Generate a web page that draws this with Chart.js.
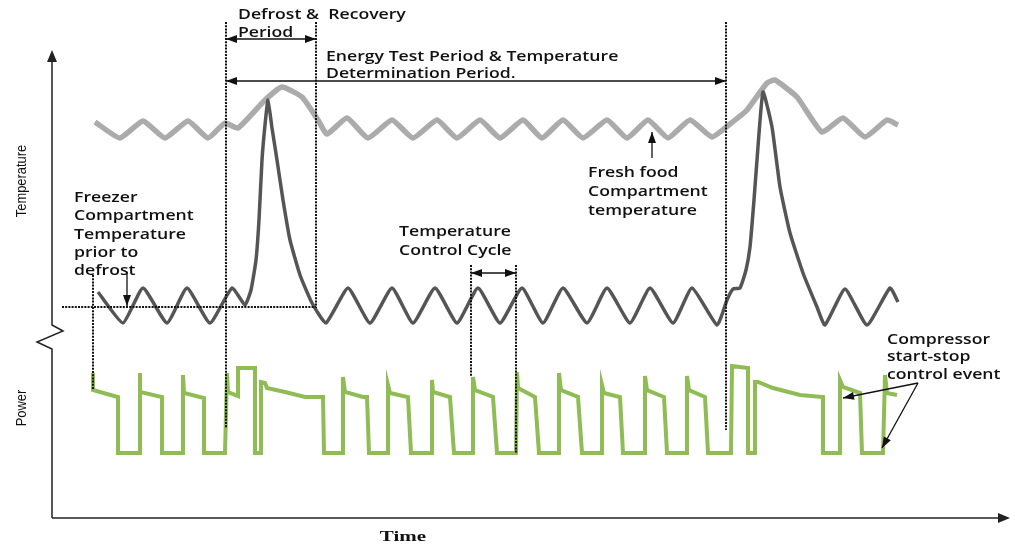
<!DOCTYPE html>
<html>
<head>
<meta charset="utf-8">
<script src="https://cdn.jsdelivr.net/npm/chart.js@4/dist/chart.umd.min.js"></script>
<style>
  html, body { margin: 0; padding: 0; background: #fff; }
  #wrap { width: 1015px; height: 544px; position: relative; }
</style>
</head>
<body>
<div id="wrap"><canvas id="cycleChart"></canvas></div>
<script>
// time / level pairs (arbitrary units)
const freshFood = [[95,396],[120,380],[143,397],[165,380],[188,397],[208,380],[225,395],[238,390],[265,418],[282,431],[302,421],[318,398],[327,384],[347,400],[368,380],[392,398],[413,380],[437,398],[457,380],[480,398],[500,380],[523,398],[542,380],[563,398],[583,380],[607,398],[627,380],[648,398],[668,380],[690,398],[712,381],[730,394],[747,408],[767,435],[775,438],[797,421],[822,386],[843,400],[865,381],[887,398],[898,393]];

const freezer = [[98,226],[123,195],[143,230],[167,195],[187,230],[210,195],[232,230],[245,213],[251,228],[256,258],[259,298],[262,358],[265,393],[268,418],[272,390],[277,358],[283,318],[290,278],[300,243],[312,215],[326,195],[348,230],[370,195],[392,230],[413,195],[435,230],[457,195],[478,230],[500,195],[522,230],[543,195],[563,230],[587,195],[607,230],[630,195],[650,230],[673,195],[692,230],[717,193],[727,218],[733,229],[740,230],[746,248],[750,271],[754,318],[757,358],[763,426],[772,391],[780,331],[790,285],[803,245],[817,211],[825,193],[845,229],[867,193],[890,230],[898,216]];

const power = [[93,145],[93,128],[107,124],[118,121],[118,65],[140,65],[140,145],[140,126],[162,121],[162,65],[183,65],[183,143],[184,125],[204,120],[204,65],[225,65],[227,145],[228,126],[238,122],[238,150],[255,150],[255,65],[261,65],[261,136],[265,135],[267,130],[285,126],[305,121],[323,121],[324,65],[343,65],[343,141],[345,126],[363,121],[367,121],[369,65],[388,65],[388,133],[390,125],[408,121],[411,65],[432,65],[432,138],[433,126],[450,121],[454,65],[473,65],[473,141],[475,128],[493,121],[497,65],[516,65],[517,146],[518,130],[535,121],[539,65],[559,65],[559,145],[561,128],[578,121],[582,65],[602,65],[602,133],[604,125],[620,121],[623,65],[645,65],[645,142],[647,128],[664,121],[667,65],[687,65],[687,142],[689,128],[705,121],[708,65],[731,65],[732,152],[748,150],[748,65],[755,65],[755,136],[758,136],[773,130],[800,123],[823,121],[823,65],[840,65],[840,138],[843,131],[860,125],[862,65],[883,65],[885,143],[887,125],[897,123]];

// period boundaries (time) and annotation texts
const markerTimes = [93, 226, 316, 471, 516, 726];
const defrostText = ['Defrost &  Recovery', 'Period'];
const energyText = ['Energy Test Period & Temperature', 'Determination Period.'];
const freezerText = ['Freezer', 'Compartment', 'Temperature', 'prior to', 'defrost'];
const freshText = ['Fresh food', 'Compartment', 'temperature'];
const cycleText = ['Temperature', 'Control Cycle'];
const compressorText = ['Compressor', 'start-stop', 'control event'];

function toXY(arr) {
    return arr.map(p => ({ x: p[0], y: p[1] }));
}

function arrowHead(ctx, fx, fy, tx, ty, len, half) {
    const a = Math.atan2(ty - fy, tx - fx);
    const c = Math.cos(a), s = Math.sin(a);
    ctx.beginPath();
    ctx.moveTo(tx, ty);
    ctx.lineTo(tx - len * c + half * s, ty - len * s - half * c);
    ctx.lineTo(tx - len * c - half * s, ty - len * s + half * c);
    ctx.closePath();
    ctx.fill();
}

function arrow(ctx, fx, fy, tx, ty, both) {
    ctx.beginPath();
    ctx.moveTo(fx, fy);
    ctx.lineTo(tx, ty);
    ctx.stroke();
    arrowHead(ctx, fx, fy, tx, ty, 11, 4);
    if (both) arrowHead(ctx, tx, ty, fx, fy, 11, 4);
}

function textBlock(ctx, lines, x0, y0, step) {
    ctx.save();
    ctx.font = '600 14px "Open Sans", sans-serif';
    ctx.fillStyle = '#111';
    ctx.textBaseline = 'middle';
    lines.forEach((s, i) => {
        ctx.save();
        ctx.translate(x0, y0 + i * step);
        ctx.scale(1.26, 1);
        ctx.fillText(s, 0, 0);
        ctx.restore();
    });
    ctx.restore();
}

const annotations = {
    id: 'annotations',
    afterDatasetsDraw(chart) {
        const { ctx, scales: { x, y } } = chart;
        const X = v => x.getPixelForValue(v);
        const Y = v => y.getPixelForValue(v);
        const x0 = x.left, y0 = y.bottom;

        ctx.save();
        ctx.strokeStyle = '#222';
        ctx.fillStyle = '#222';
        ctx.lineWidth = 1.5;

        // y axis with break
        ctx.beginPath();
        ctx.moveTo(x0, y0);
        ctx.lineTo(x0, Y(169));
        ctx.lineTo(x0 - 15, Y(176));
        ctx.lineTo(x0 + 11, Y(187));
        ctx.lineTo(x0, Y(193));
        ctx.lineTo(x0, Y(460));
        ctx.stroke();
        ctx.beginPath();
        ctx.moveTo(x0, Y(468));
        ctx.lineTo(x0 - 5, Y(456));
        ctx.lineTo(x0 + 5, Y(456));
        ctx.closePath();
        ctx.fill();

        // x axis
        ctx.beginPath();
        ctx.moveTo(x0, y0);
        ctx.lineTo(X(1000), y0);
        ctx.stroke();
        arrowHead(ctx, x0, y0, X(1010), y0, 12, 5);

        // dotted period markers
        ctx.strokeStyle = '#111';
        ctx.lineWidth = 2;
        ctx.setLineDash([2, 1.2]);
        const spans = [[243, 128], [496, 90], [496, 210], [253, 141], [253, 65], [496, 88]];
        markerTimes.forEach((t, i) => {
            ctx.beginPath();
            ctx.moveTo(X(t), Y(spans[i][0]));
            ctx.lineTo(X(t), Y(spans[i][1]));
            ctx.stroke();
        });
        ctx.beginPath();
        ctx.moveTo(X(62), Y(211));
        ctx.lineTo(X(316), Y(211));
        ctx.stroke();
        ctx.setLineDash([]);

        // period arrows
        ctx.strokeStyle = '#111';
        ctx.fillStyle = '#111';
        ctx.lineWidth = 1.3;
        arrow(ctx, X(markerTimes[1]), Y(479), X(markerTimes[2]), Y(479), true);
        arrow(ctx, X(markerTimes[1]), Y(437), X(markerTimes[5]), Y(437), true);
        arrow(ctx, X(markerTimes[3]), Y(245), X(markerTimes[4]), Y(245), true);

        // pointer arrows
        arrow(ctx, X(652), Y(360), X(652), Y(386), false);
        arrow(ctx, X(127), Y(246), X(127), Y(212), false);
        arrow(ctx, X(918), Y(135), X(843), Y(120), false);
        arrow(ctx, X(918), Y(135), X(882), Y(70), false);

        // notes
        textBlock(ctx, defrostText, X(238), Y(503), 18);
        textBlock(ctx, energyText, X(326), Y(461), 17);
        textBlock(ctx, freezerText, X(74), Y(320), 18.3);
        textBlock(ctx, freshText, X(588), Y(345), 19);
        textBlock(ctx, cycleText, X(399), Y(286), 19);
        textBlock(ctx, compressorText, X(887), Y(178), 17.5);

        // axis titles
        ctx.fillStyle = '#111';
        ctx.textAlign = 'center';
        ctx.textBaseline = 'middle';
        ctx.font = '14px "Liberation Sans", sans-serif';
        [['Temperature', 181], ['Power', 408]].forEach(([s, cy]) => {
            ctx.save();
            ctx.translate(22, cy);
            ctx.rotate(-Math.PI / 2);
            ctx.scale(0.92, 1);
            ctx.fillText(s, 0, 0);
            ctx.restore();
        });
        ctx.save();
        ctx.font = 'bold 15px "Liberation Serif", serif';
        ctx.translate(403, 537);
        ctx.scale(1.4, 1);
        ctx.fillText('Time', 0, 0);
        ctx.restore();

        ctx.restore();
    }
};

new Chart(document.getElementById('cycleChart'), {
    type: 'line',
    data: {
        datasets: [
            {
                label: 'Freezer compartment temperature',
                data: toXY(freezer),
                borderColor: '#555555',
                borderWidth: 3.5,
                borderJoinStyle: 'round',
                tension: 0.15,
                order: 0
            },
            {
                label: 'Fresh food compartment temperature',
                data: toXY(freshFood),
                borderColor: '#ababab',
                borderWidth: 5.5,
                borderJoinStyle: 'round',
                tension: 0.15,
                order: 1
            },
            {
                label: 'Power',
                data: toXY(power),
                borderColor: '#8fbc55',
                borderWidth: 4,
                tension: 0,
                order: 2
            }
        ]
    },
    options: {
        responsive: true,
        maintainAspectRatio: false,
        animation: false,
        layout: { padding: { left: 52, right: 5, top: 0, bottom: 26 } },
        elements: { point: { radius: 0 } },
        plugins: {
            legend: { display: false },
            tooltip: { enabled: false }
        },
        scales: {
            x: { type: 'linear', min: 52, max: 1010, display: false },
            y: { type: 'linear', min: 0, max: 518, display: false }
        }
    },
    plugins: [annotations]
});
</script>
</body>
</html>
